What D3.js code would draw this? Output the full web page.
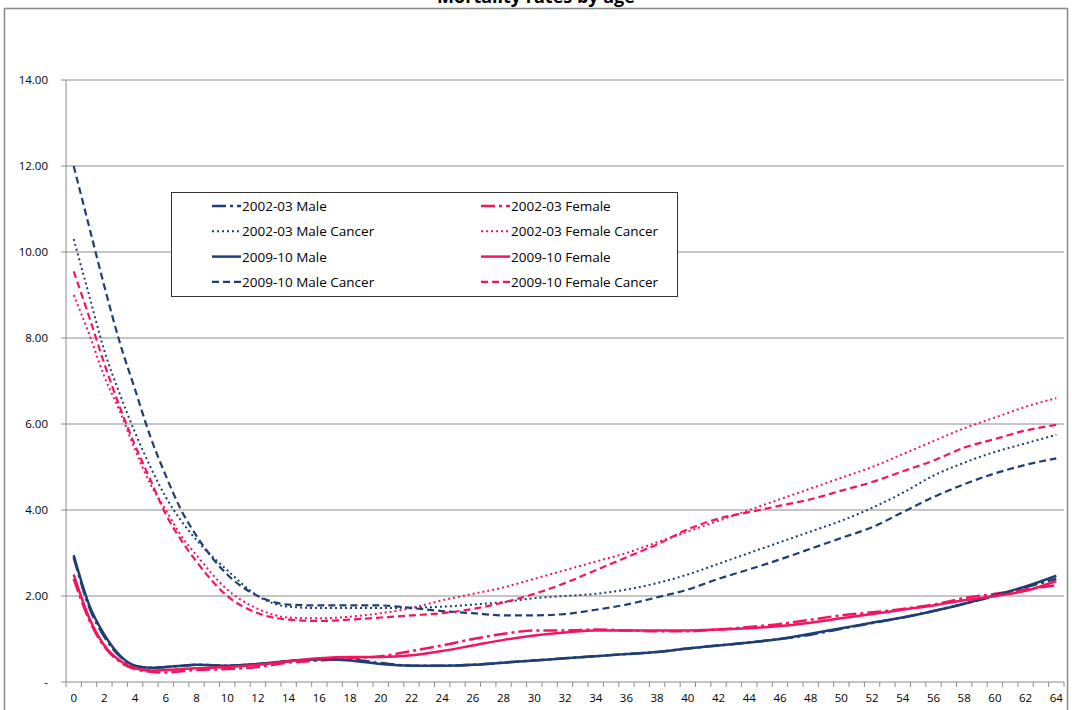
<!DOCTYPE html>
<html><head><meta charset="utf-8">
<script src="https://cdn.jsdelivr.net/npm/d3@7"></script>
<style>body{margin:0;background:#fff}svg{display:block}text{font-family:"Open Sans","Liberation Sans",sans-serif}</style>
</head><body>
<script>
var ages = [0,1,2,3,4,5,6,7,8,10,12,14,16,18,20,22,24,26,28,30,32,34,36,38,40,42,44,46,48,50,52,54,56,58,60,62,64];
var male02 = [2.9,1.75,1.05,0.6,0.37,0.33,0.35,0.37,0.4,0.38,0.42,0.48,0.53,0.52,0.44,0.38,0.38,0.4,0.45,0.5,0.55,0.6,0.65,0.7,0.78,0.85,0.92,1.0,1.1,1.24,1.37,1.5,1.65,1.82,2.0,2.2,2.4];
var female02 = [2.4,1.45,0.82,0.47,0.3,0.24,0.22,0.25,0.28,0.3,0.35,0.45,0.5,0.55,0.6,0.72,0.85,1.0,1.12,1.2,1.2,1.22,1.2,1.18,1.18,1.22,1.28,1.35,1.45,1.55,1.62,1.7,1.8,1.95,2.05,2.15,2.25];
var male02c = [10.3,9.0,7.7,6.7,5.8,5.0,4.3,3.75,3.3,2.6,2.0,1.75,1.72,1.72,1.72,1.73,1.75,1.8,1.86,1.95,2.0,2.05,2.15,2.3,2.5,2.75,3.0,3.25,3.5,3.75,4.05,4.4,4.8,5.1,5.35,5.55,5.75];
var female02c = [9.0,8.1,7.1,6.3,5.4,4.6,4.0,3.4,2.95,2.15,1.7,1.5,1.48,1.52,1.6,1.72,1.9,2.05,2.2,2.4,2.6,2.8,3.0,3.25,3.5,3.75,4.0,4.25,4.5,4.75,5.0,5.3,5.6,5.9,6.15,6.4,6.6];
var male09 = [2.95,1.8,1.1,0.62,0.38,0.33,0.35,0.38,0.4,0.38,0.42,0.49,0.53,0.5,0.42,0.38,0.38,0.4,0.45,0.5,0.55,0.6,0.65,0.7,0.78,0.85,0.92,1.0,1.12,1.25,1.38,1.5,1.65,1.82,2.02,2.22,2.47];
var female09 = [2.5,1.5,0.85,0.5,0.32,0.27,0.28,0.3,0.32,0.35,0.4,0.48,0.55,0.58,0.58,0.62,0.72,0.85,0.98,1.08,1.15,1.2,1.2,1.2,1.2,1.22,1.25,1.3,1.38,1.48,1.58,1.68,1.78,1.9,2.0,2.12,2.35];
var male09c = [12.0,10.6,9.2,7.9,6.8,5.7,4.8,4.0,3.4,2.5,2.0,1.8,1.78,1.78,1.78,1.72,1.65,1.6,1.55,1.55,1.58,1.68,1.8,1.97,2.15,2.4,2.62,2.85,3.1,3.35,3.6,3.95,4.3,4.6,4.85,5.05,5.2];
var female09c = [9.55,8.5,7.4,6.4,5.5,4.7,3.9,3.3,2.8,2.0,1.6,1.45,1.42,1.45,1.5,1.55,1.6,1.7,1.85,2.05,2.3,2.6,2.9,3.2,3.55,3.8,3.95,4.1,4.25,4.45,4.65,4.9,5.15,5.45,5.65,5.85,5.98];
var yTicks = [0,2,4,6,8,10,12,14];

var navy = "#1f3f73", pink = "#f5145f";
var series = [
  {name:"2002-03 Male", v:male02, c:navy, d:"14,4,3,4", w:2.5},
  {name:"2002-03 Female", v:female02, c:pink, d:"14,4,3,4", w:2.5},
  {name:"2002-03 Male Cancer", v:male02c, c:navy, d:"2,3", w:2},
  {name:"2002-03 Female Cancer", v:female02c, c:pink, d:"2,3", w:2},
  {name:"2009-10 Male", v:male09, c:navy, d:null, w:2.5},
  {name:"2009-10 Female", v:female09, c:pink, d:null, w:2.5},
  {name:"2009-10 Male Cancer", v:male09c, c:navy, d:"7,4", w:2.2},
  {name:"2009-10 Female Cancer", v:female09c, c:pink, d:"7,4", w:2.2}
];

var W = 1072, H = 710, L = 66, R = 1064, T = 80, B = 682;
var svg = d3.select("body").append("svg").attr("width", W).attr("height", H);
svg.append("rect").attr("x", 4.5).attr("y", 8.5).attr("width", 1063).attr("height", 720)
  .attr("fill", "none").attr("stroke", "#888").attr("stroke-width", 1.5);
svg.append("text").attr("x", 536).attr("y", 3).attr("text-anchor", "middle")
  .attr("font-size", 18).attr("font-weight", "bold").text("Mortality rates by age");

var cats = d3.range(0, 65);
var xb = d3.scaleBand().domain(cats).range([L, R]);
var x = function(a) { return xb(a) + xb.bandwidth() / 2; };
var y = d3.scaleLinear().domain([0, 14]).range([B, T]);

svg.append("g").selectAll("line").data(yTicks.filter(function(t){return t>0;})).join("line")
  .attr("x1", L - 5).attr("x2", R).attr("y1", function(d){return y(d);}).attr("y2", function(d){return y(d);})
  .attr("stroke", "#8c8c8c").attr("stroke-width", 1);
svg.append("g").selectAll("text").data(yTicks).join("text")
  .attr("x", L - 18).attr("y", function(d){return y(d) + 4;}).attr("text-anchor", "end")
  .attr("font-size", 11.5).text(function(d){return d === 0 ? "-" : d.toFixed(2);});
svg.append("line").attr("x1", L).attr("x2", L).attr("y1", T).attr("y2", B).attr("stroke", "#8c8c8c");
svg.append("line").attr("x1", L - 5).attr("x2", R).attr("y1", B).attr("y2", B).attr("stroke", "#8c8c8c");
svg.append("g").selectAll("line").data(d3.range(0, 66)).join("line")
  .attr("x1", function(i){return L + i * xb.step();}).attr("x2", function(i){return L + i * xb.step();})
  .attr("y1", B).attr("y2", B + 5).attr("stroke", "#8c8c8c");
svg.append("g").selectAll("text").data(cats.filter(function(c){return c % 2 === 0;})).join("text")
  .attr("x", function(d){return x(d);}).attr("y", B + 20).attr("text-anchor", "middle")
  .attr("font-size", 11.5).text(function(d){return d;});

var line = d3.line().x(function(d, i){return x(ages[i]);}).y(function(d){return y(d);}).curve(d3.curveMonotoneX);
var order = [2, 3, 6, 7, 0, 1, 4, 5];
order.forEach(function(k) {
  var s = series[k];
  svg.append("path").attr("d", line(s.v)).attr("fill", "none").attr("stroke", s.c)
    .attr("stroke-width", s.w).attr("stroke-dasharray", s.d);
});

var lg = svg.append("g");
lg.append("rect").attr("x", 171.5).attr("y", 192.5).attr("width", 506).attr("height", 104)
  .attr("fill", "#fff").attr("stroke", "#333");
series.forEach(function(s, i) {
  var col = i % 2, row = Math.floor(i / 2);
  var lx = col ? 481 : 212, ly = 206 + row * 25.3;
  lg.append("line").attr("x1", lx).attr("x2", lx + 29).attr("y1", ly).attr("y2", ly)
    .attr("stroke", s.c).attr("stroke-width", s.w).attr("stroke-dasharray", s.d);
  lg.append("text").attr("x", lx + 30).attr("y", ly + 5).attr("font-size", 13.5).text(s.name);
});
</script>
</body></html>
